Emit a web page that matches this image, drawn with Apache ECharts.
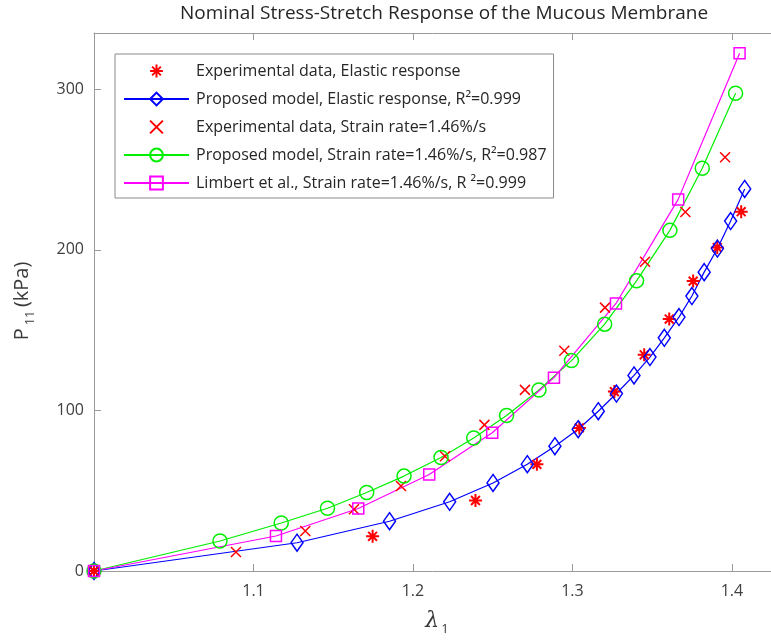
<!DOCTYPE html>
<html><head><meta charset="utf-8">
<script src="https://cdn.jsdelivr.net/npm/echarts@6/dist/echarts.min.js"></script>
<style>html,body{margin:0;padding:0;background:#fff}#c{width:771px;height:641px}</style>
</head><body><div id="c"></div>
<script>
// ---- data ----
const titleText = 'Nominal Stress-Stretch Response of the Mucous Membrane';
const xTicks = [1.1, 1.2, 1.3, 1.4];
const yTicks = [0, 100, 200, 300];

const expElasticX = [1.0, 1.1747, 1.2392, 1.2777, 1.3043, 1.3263, 1.3450, 1.3607, 1.3757, 1.3908, 1.4058];
const expElasticY = [0, 21.6, 43.9, 66.4, 89.1, 111.7, 134.6, 156.9, 180.5, 201.4, 223.7];

const modelElasticX = [1.0, 1.1273, 1.1853, 1.2230, 1.2502, 1.2717, 1.2890, 1.3036, 1.3162, 1.3276, 1.3386, 1.3486, 1.3576, 1.3668, 1.3749, 1.3826, 1.3909, 1.3992, 1.4080];
const modelElasticY = [0, 17.6, 31.0, 43.1, 54.8, 66.5, 77.7, 88.3, 99.5, 110.5, 121.8, 133.2, 145.2, 158.1, 171.2, 186.1, 200.8, 217.9, 237.9];

const expRateX = [1.0, 1.0890, 1.1325, 1.1630, 1.1925, 1.2201, 1.2448, 1.2702, 1.2949, 1.3204, 1.3455, 1.3708, 1.3957];
const expRateY = [0, 11.8, 24.9, 38.4, 52.9, 71.4, 91.0, 112.8, 137.1, 164.0, 192.6, 223.5, 257.6];

const modelRateX = [1.0, 1.0790, 1.1174, 1.1464, 1.1710, 1.1944, 1.2176, 1.2381, 1.2587, 1.2790, 1.2994, 1.3202, 1.3402, 1.3611, 1.3814, 1.4023];
const modelRateY = [0, 18.7, 29.9, 39.1, 48.9, 59.1, 70.7, 82.8, 96.8, 112.7, 131.0, 153.7, 180.7, 212.1, 250.8, 297.5];

const limbertX = [1.0, 1.1141, 1.1657, 1.2102, 1.2497, 1.2884, 1.3273, 1.3663, 1.4048];
const limbertY = [0, 21.8, 38.9, 60.1, 86.1, 120.4, 166.6, 231.4, 322.4];

const names = [
  'Experimental data, Elastic response',
  'Proposed model, Elastic response, R\u00B2=0.999',
  'Experimental data, Strain rate=1.46%/s',
  'Proposed model, Strain rate=1.46%/s, R\u00B2=0.987',
  'Limbert et al., Strain rate=1.46%/s, R \u00B2=0.999'
];

// ---- chart ----
const FONT = 'Open Sans';
const zip = (xs, ys) => xs.map((x, i) => [x, ys[i]]);
const STAR = 'path://M5,0L5,10M0,5L10,5M1.6,1.6L8.4,8.4M1.6,8.4L8.4,1.6';
const CROSS = 'path://M0,0L10,10M0,10L10,0';
const AX = '#9a9a9a', TXT = '#404040';

function markerSeries(name, data, symbol, size, color, withLine, bw) {
  return {
    type: 'line', name, data, symbol, symbolSize: size, clip: false,
    showAllSymbol: true,
    itemStyle: { color: 'rgba(0,0,0,0)', borderColor: color, borderWidth: bw || 1.5 },
    lineStyle: withLine ? { color, width: 1.2 } : { color: 'rgba(0,0,0,0)', width: 1, opacity: 0 },
    emphasis: { disabled: true }
  };
}

const chart = echarts.init(document.getElementById('c'), null, { renderer: 'canvas' });
chart.setOption({
  animation: false,
  backgroundColor: '#fff',
  textStyle: { fontFamily: FONT },
  grid: { left: 94, top: 33, right: 0, bottom: 70, containLabel: false },
  xAxis: [{
    type: 'value', min: 1.0, max: 1.4245, interval: 0.1, position: 'bottom',
    axisLine: { show: true, lineStyle: { color: AX, width: 1 } },
    axisTick: { show: true, inside: true, length: 7, lineStyle: { color: AX } },
    splitLine: { show: false },
    axisLabel: {
      color: TXT, fontSize: 16, fontFamily: FONT, margin: 12,
      showMinLabel: false, showMaxLabel: false,
      formatter: v => xTicks.some(t => Math.abs(t - v) < 1e-6) ? v.toFixed(1) : ''
    }
  }, {
    type: 'value', min: 1.0, max: 1.4245, interval: 0.1, position: 'top',
    axisLine: { show: true, lineStyle: { color: AX, width: 1 } },
    axisTick: { show: true, inside: true, length: 7, lineStyle: { color: AX } },
    splitLine: { show: false }, axisLabel: { show: false }
  }],
  yAxis: [{
    type: 'value', min: 0, max: 335, interval: 100,
    axisLine: { show: true, lineStyle: { color: AX, width: 1 } },
    axisTick: { show: true, inside: true, length: 7, lineStyle: { color: AX } },
    splitLine: { show: false },
    axisLabel: {
      color: TXT, fontSize: 16, fontFamily: FONT, margin: 10, showMaxLabel: false,
      formatter: v => yTicks.includes(v) ? String(v) : ''
    }
  }],
  legend: {
    orient: 'vertical', left: 115, top: 54,
    backgroundColor: '#fff', borderColor: '#8a8a8a', borderWidth: 1,
    padding: [9, 7, 7, 8], itemGap: 12, itemWidth: 65, itemHeight: 16,
    textStyle: { color: '#262626', fontSize: 16, fontFamily: FONT, padding: [0, 0, 0, 2] },
    data: names,
    selectedMode: false
  },
  graphic: [
    { type: 'text', x: 444, y: 14,
      style: { text: titleText, font: '19px "Open Sans"', fill: '#262626', align: 'center', verticalAlign: 'middle' } },
    { type: 'text', x: 22, y: 301, rotation: Math.PI / 2,
      style: {
        text: '{n|P}{s|11} {n|(kPa)}', align: 'center', verticalAlign: 'middle', fill: '#3a3a3a',
        rich: {
          n: { fontSize: 20, fontFamily: FONT, lineHeight: 30, verticalAlign: 'middle', fill: '#3a3a3a' },
          s: { fontSize: 13, fontFamily: FONT, lineHeight: 13, verticalAlign: 'bottom', fill: '#3a3a3a', padding: [0, 0, 0, 3] }
        }
      } },
    { type: 'text', x: 437, y: 621,
      style: {
        text: '{n|\u03BB}{s|1}', align: 'center', verticalAlign: 'middle',
        rich: {
          n: { fontSize: 22, fontFamily: 'DejaVu Serif', fontStyle: 'italic', lineHeight: 30, verticalAlign: 'middle', fill: '#3a3a3a' },
          s: { fontSize: 13, fontFamily: FONT, lineHeight: 13, verticalAlign: 'bottom', fill: '#3a3a3a', padding: [0, 0, 0, 2] }
        }
      } }
  ],
  series: [
    markerSeries(names[0], zip(expElasticX, expElasticY), STAR, 13, '#ff0000', false, 2),
    markerSeries(names[1], zip(modelElasticX, modelElasticY), 'diamond', [12, 17], '#0000ff', true),
    markerSeries(names[2], zip(expRateX, expRateY), CROSS, 10, '#ff0000', false),
    markerSeries(names[3], zip(modelRateX, modelRateY), 'circle', 14, '#00ee00', true),
    markerSeries(names[4], zip(limbertX, limbertY), 'rect', 11, '#ff00ff', true)
  ]
});
</script>
</body></html>
